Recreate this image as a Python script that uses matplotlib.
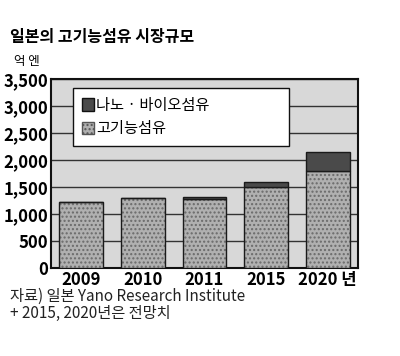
import matplotlib
matplotlib.use("Agg")
import matplotlib.pyplot as plt
from matplotlib.patches import Patch

plt.rcParams['font.family'] = ['Noto Sans CJK KR', 'DejaVu Sans']

years = ['2009', '2010', '2011', '2015', '2020 년']
high_func = [1220, 1290, 1285, 1500, 1800]
nano_bio = [0, 0, 25, 90, 350]
yticks = [0, 500, 1000, 1500, 2000, 2500, 3000, 3500]
ytick_labels = ['0', '500', '1,000', '1,500', '2,000', '2,500', '3,000', '3,500']

fig = plt.figure(figsize=(4.0, 3.56), dpi=100)
ax = fig.add_axes([0.1275, 0.247, 0.7675, 0.531])
ax.set_facecolor('#d8d8d8')

x = list(range(len(years)))
ax.bar(x, high_func, width=0.71, color='#b0b0b0', edgecolor='#6a6a6a',
       linewidth=0, hatch='....', zorder=3)
ax.bar(x, high_func, width=0.71, fill=False, edgecolor='#1a1a1a',
       linewidth=1.0, zorder=4)
ax.bar(x, nano_bio, width=0.71, bottom=high_func, color='#4a4a4a',
       edgecolor='#1a1a1a', linewidth=1.0, zorder=4)

ax.set_ylim(0, 3500)
ax.set_xlim(-0.49, 4.49)
ax.set_yticks(yticks)
ax.set_yticklabels(ytick_labels)
ax.set_xticks(x)
ax.set_xticklabels(years)
for lab in ax.get_yticklabels() + ax.get_xticklabels():
    lab.set_fontfamily(['Liberation Sans Narrow', 'Noto Sans CJK KR'])
    lab.set_fontweight('bold')
    lab.set_fontsize(12)
ax.tick_params(length=0, pad=2)
ax.yaxis.grid(True, color='#333333', linewidth=1.0, zorder=1)
ax.set_axisbelow(True)
for s in ax.spines.values():
    s.set_linewidth(1.5)
    s.set_color('#111111')

handles = [Patch(facecolor='#4a4a4a', edgecolor='#111111', label='나노 · 바이오섬유'),
           Patch(facecolor='#b0b0b0', edgecolor='#555555', hatch='....', label='고기능섬유')]
leg = ax.legend(handles=handles, loc='upper left',
                bbox_to_anchor=(0.072, 0.683, 0.703, 0.269), mode='expand',
                frameon=True, fancybox=False, fontsize=11, handlelength=0.8,
                handleheight=0.9, handletextpad=0.15, borderpad=0.55,
                borderaxespad=0, labelspacing=0.45, edgecolor='#111111',
                framealpha=1)
leg.get_frame().set_linewidth(1.0)
leg.set_zorder(5)

fig.text(0.025, 0.895, '일본의 고기능섬유 시장규모', fontsize=11.5, fontweight='bold',
         va='center', ha='left')
fig.text(0.035, 0.826, '억 엔', fontsize=9, va='center', ha='left')
fig.text(0.025, 0.167, '자료) 일본 Yano Research Institute', fontsize=11,
         va='center', ha='left', color='#222222')
fig.text(0.025, 0.12, '+ 2015, 2020년은 전망치', fontsize=11,
         va='center', ha='left', color='#222222')

fig.savefig('out.png', dpi=100)
